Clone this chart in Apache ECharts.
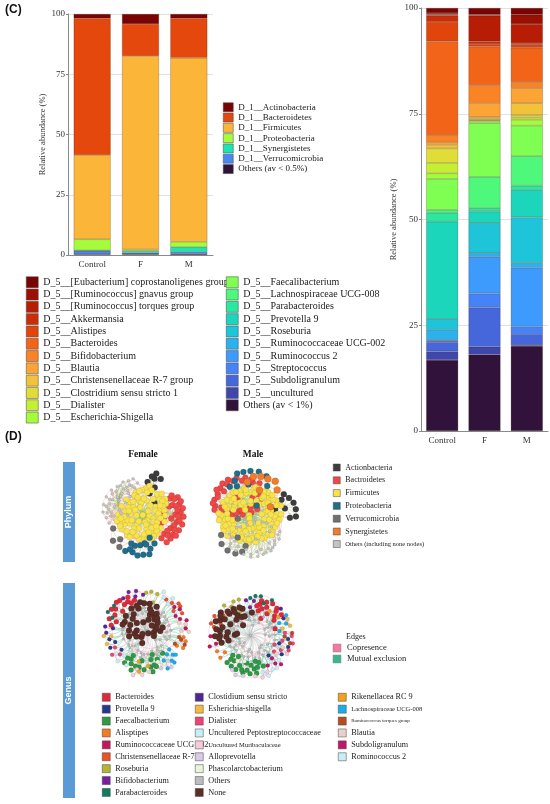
<!DOCTYPE html>
<html>
<head>
<meta charset="utf-8">
<script src="https://cdn.jsdelivr.net/npm/echarts@6/dist/echarts.min.js"></script>
<style>
html, body { margin: 0; padding: 0; background: #fff; }
#main { width: 550px; height: 804px; }
</style>
</head>
<body>
<div id="main"></div>
<script>
// ---- (C) relative abundance, three samples ----
const samples = ['Control', 'F', 'M'];

const phylumNames = ['D_1__Actinobacteria', 'D_1__Bacteroidetes', 'D_1__Firmicutes', 'D_1__Proteobacteria',
  'D_1__Synergistetes', 'D_1__Verrucomicrobia', 'Others (av < 0.5%)'];
const phylumControl = [1.8, 56.7, 35.0, 4.6, 0.1, 1.5, 0.3];
const phylumF = [4.1, 13.3, 80.3, 0.6, 0.8, 0.6, 0.3];
const phylumM = [1.8, 16.4, 76.3, 2.2, 2.1, 0.8, 0.4];

const genusNames = ['D_5__[Eubacterium] coprostanoligenes group', 'D_5__[Ruminococcus] gnavus group',
  'D_5__[Ruminococcus] torques group', 'D_5__Akkermansia', 'D_5__Alistipes', 'D_5__Bacteroides',
  'D_5__Bifidobacterium', 'D_5__Blautia', 'D_5__Christensenellaceae R-7 group', 'D_5__Clostridium sensu stricto 1',
  'D_5__Dialister', 'D_5__Escherichia-Shigella', 'D_5__Faecalibacterium', 'D_5__Lachnospiraceae UCG-008',
  'D_5__Parabacteroides', 'D_5__Prevotella 9', 'D_5__Roseburia', 'D_5__Ruminococcaceae UCG-002',
  'D_5__Ruminococcus 2', 'D_5__Streptococcus', 'D_5__Subdoligranulum', 'D_5__uncultured', 'Others (av < 1%)'];
const genusControl = [1.2, 0.3, 0.3, 1.5, 4.6, 22.1, 1.7, 0.6, 0.9, 3.4, 2.5, 1.3, 7.3, 0.7, 2.1, 23.0, 2.6, 2.4, 0.2, 0.3, 2.2, 2.0, 16.8];
const genusF = [1.5, 0.3, 6.1, 0.6, 0.6, 9.1, 4.2, 3.4, 0.4, 0.3, 0.2, 0.5, 12.7, 7.4, 0.8, 2.8, 7.1, 0.8, 8.7, 3.3, 9.3, 1.9, 18.0];
const genusM = [1.6, 2.2, 4.5, 0.4, 0.7, 8.1, 1.4, 3.6, 2.8, 0.6, 0.5, 1.4, 7.2, 7.0, 1.0, 6.5, 10.8, 1.1, 13.9, 1.8, 2.6, 0.2, 20.1];

// ---- (D) co-occurrence networks: node counts per group ----
const phylumNetGroups = ['Actionbacteria', 'Bactroidetes', 'Firmicutes', 'Proteobacteria', 'Verrucomicrobia',
  'Synergistetes', 'Others (including none nodes)'];
const femalePhylumNodes = [8, 34, 90, 14, 4, 0, 40];
const malePhylumNodes = [9, 36, 115, 11, 8, 8, 36];

const genusNetGroups = ['Bacteroides', 'Provetella 9', 'Faecalbacterium', 'Alisptipes', 'Ruminococcaceae UCG 002',
  'Christensenellaceae R-7', 'Roseburia', 'Bifidobacterium', 'Parabacteroides',
  'Clostidium sensu stricto', 'Esherichia-shigella', 'Dialister', 'Uncultered Peptostreptococcaceae',
  'Uncultured Muribaculaceae', 'Alloprevotella', 'Phascolarctobacterium', 'Others', 'None',
  'Rikenellacea RC 9', 'Lachnospiraceae UCG-008', 'Ruminococcus torques group', 'Blautia', 'Subdoligranulum', 'Rominococcus 2'];
const femaleGenusNodes = [14, 4, 18, 4, 3, 6, 4, 5, 3, 3, 3, 3, 4, 4, 3, 3, 50, 40, 3, 8, 4, 4, 3, 4];
const maleGenusNodes = [16, 5, 20, 3, 3, 5, 5, 3, 5, 2, 3, 8, 3, 3, 3, 3, 55, 30, 2, 4, 3, 3, 4, 3];

// ---- styles ----
const phylumColors = ['#7a0403', '#e4480c', '#fbb63a', '#a4fc3c', '#1be5b3', '#4788f5', '#30123b'];
const genusColors = ['#7a0403', '#9a1002', '#b71c05', '#cb2e07', '#e0460c', '#f26418', '#f98325', '#fca435',
  '#f3c23b', '#e0dc38', '#c6ef34', '#a4fc3c', '#80ff53', '#4ef87a', '#2ae8a0', '#1cd6bb', '#1ec5d8',
  '#2bb2ee', '#3e9bfe', '#4683f7', '#4567db', '#3f47ad', '#30123b'];
const phylumNetColors = ['#3d3d3d', '#f04848', '#f8e34c', '#1f6e8c', '#707070', '#f07c2c', '#c4c4c4'];
const phylumNodeSize = [6, 6, 6, 6, 6, 7, 3];
const genusNetColors = ['#e2293b', '#28388f', '#2e9a44', '#f57c22', '#c2185b', '#e9522a', '#b7b432', '#7b1fa2',
  '#127a60', '#4b2a98', '#f5b840', '#ef4378', '#c9eff6', '#f9cad9', '#d9c9ea', '#e9f4da', '#bdbdbd', '#5b2e27',
  '#f0a11f', '#1aaee9', '#b84c1b', '#e8d2ca', '#c0176b', '#c8eef9'];
const genusNodeSize = [5, 4, 5, 4, 4, 4, 4, 4, 4, 4, 4, 4, 4, 4, 4, 4, 2.5, 6, 4, 4, 4, 4, 4, 4];

const SERIF = 'Liberation Serif';
const SANS = 'Liberation Sans';

const chart = echarts.init(document.getElementById('main'), null, { renderer: 'canvas' });

function stackSeries(names, cols, colors, axis, width) {
  // first series = bottom of the stack, so go from the last legend entry upward
  const out = [];
  for (let i = names.length - 1; i >= 0; i--) {
    out.push({
      name: names[i], type: 'bar', stack: 's' + axis,
      xAxisIndex: axis, yAxisIndex: axis, barWidth: width,
      data: cols.map(c => c[i]),
      itemStyle: { color: colors[i], borderColor: 'rgba(60,20,0,0.45)', borderWidth: 0.5 },
      emphasis: { disabled: true }
    });
  }
  return out;
}

// star inside each group; each outside node also tied to one member of the biggest group; running chain
function buildNet(groups, counts, sizes, edgeCol) {
  const nodes = [], links = [], first = [];
  const main = counts.indexOf(Math.max.apply(null, counts));
  let start = 0;
  counts.forEach((c, g) => { first[g] = start; start += c; });
  let m = 0;
  counts.forEach((c, g) => {
    for (let k = 0; k < c; k++) {
      const id = nodes.length;
      nodes.push({ name: groups[g] + ' #' + (k + 1), category: g, value: 1, symbolSize: sizes[g] });
      if (k > 0) links.push({ source: first[g], target: id, lineStyle: { color: edgeCol[0] } });
      if (g !== main) {
        links.push({ source: first[main] + (m % counts[main]), target: id, lineStyle: { color: edgeCol[1] } });
        m += 7;
      }
      if (id > 0) links.push({ source: id - 1, target: id, lineStyle: { color: edgeCol[2] } });
    }
  });
  return { nodes, links };
}

function netSeries(groups, counts, colors, sizes, edgeCol, box) {
  const net = buildNet(groups, counts, sizes, edgeCol);
  return {
    type: 'graph', layout: 'force',
    left: box[0], top: box[1], width: box[2], height: box[3],
    roam: false, silent: true, animation: false,
    categories: groups.map((g, i) => ({ name: g, itemStyle: { color: colors[i] } })),
    data: net.nodes, links: net.links,
    force: { initLayout: 'circular', repulsion: 2, gravity: 0.28, edgeLength: 8, layoutAnimation: false },
    lineStyle: { width: 0.5, opacity: 0.7, curveness: 0.3 },
    itemStyle: { borderColor: 'rgba(0,0,0,0.3)', borderWidth: 0.3 },
    label: { show: false },
    emphasis: { disabled: true }
  };
}

const axisText = { fontFamily: SERIF, fontSize: 9, color: '#333' };

function xAx(i) {
  return {
    type: 'category', gridIndex: i, data: samples,
    axisLine: { lineStyle: { color: '#8a8a8a' } }, axisTick: { show: false },
    axisLabel: Object.assign({ margin: 5 }, axisText)
  };
}
function yAx(i, gap) {
  return {
    type: 'value', gridIndex: i, min: 0, max: 100, interval: 25,
    name: 'Relative abundance (%)', nameLocation: 'middle', nameGap: gap,
    nameTextStyle: { fontFamily: SERIF, fontSize: 8.5, color: '#333' },
    axisLine: { show: true, lineStyle: { color: '#8a8a8a' } },
    axisTick: { show: true, length: 2, lineStyle: { color: '#8a8a8a' } },
    axisLabel: Object.assign({ margin: 3 }, axisText),
    splitLine: { lineStyle: { color: '#e2e2e2' } }
  };
}

function legendOf(names, left, top, iw, ih, gap, fs) {
  return {
    orient: 'vertical', left: left, top: top, padding: 0, height: 200,
    itemWidth: iw, itemHeight: ih, itemGap: gap, icon: 'rect', selectedMode: false,
    itemStyle: { borderColor: '#444', borderWidth: 0.5 },
    textStyle: { fontFamily: SERIF, fontSize: fs, color: '#222' },
    data: names
  };
}

const small = (n, fs) => ({ name: n, textStyle: { fontSize: fs } });

const sideBand = (y, h, label) => ({
  type: 'group', children: [
    { type: 'rect', shape: { x: 63, y: y, width: 12, height: h }, style: { fill: '#5b9bd5' } },
    { type: 'text', x: 69, y: y + h / 2, rotation: Math.PI / 2,
      style: { text: label, fill: '#fff', font: 'bold 9px ' + SANS, textAlign: 'center', textVerticalAlign: 'middle' } }
  ]
});

const option = {
  backgroundColor: '#fff',
  animation: false,
  grid: [
    { left: 68, top: 14, width: 145, height: 241 },
    { left: 421, top: 8, width: 127, height: 423 }
  ],
  xAxis: [xAx(0), xAx(1)],
  yAxis: [yAx(0, 20), yAx(1, 23)],
  legend: [
    legendOf(phylumNames, 223, 102.5, 10, 9, 0.8, 9),
    legendOf(genusNames.slice(0, 12), 26, 276.5, 12, 11, 0.8, 10),
    legendOf(genusNames.slice(12), 226, 276.5, 12, 11, 0.8, 10),
    legendOf(phylumNetGroups.map((n, i) => i === 6 ? small(n, 6.5) : n), 333, 463.5, 7, 7, 4.8, 8),
    legendOf(genusNetGroups.slice(0, 9), 102, 693, 8, 8, 3.4, 8.2),
    legendOf(genusNetGroups.slice(9, 18).map(n => n === 'Uncultured Muribaculaceae' ? small(n, 6.5) : n), 195, 693, 8, 8, 3.4, 8.2),
    legendOf(genusNetGroups.slice(18).map(n => n === 'Lachnospiraceae UCG-008' ? small(n, 6.5)
      : (n === 'Ruminococcus torques group' ? small(n, 5) : n)), 338, 693, 8, 8, 3.4, 8.2)
  ],
  series: [].concat(
    stackSeries(phylumNames, [phylumControl, phylumF, phylumM], phylumColors, 0, 37),
    stackSeries(genusNames, [genusControl, genusF, genusM], genusColors, 1, 32),
    [
      netSeries(phylumNetGroups, femalePhylumNodes, phylumNetColors, phylumNodeSize, ['#8dbb4f', '#f08cb2', '#f3b08a'], [98, 469, 90, 90]),
      netSeries(phylumNetGroups, malePhylumNodes, phylumNetColors, phylumNodeSize, ['#7cc45a', '#f08cb2', '#9fd36a'], [205, 469, 90, 90]),
      netSeries(genusNetGroups, femaleGenusNodes, genusNetColors, genusNodeSize, ['#b8b8b8', '#4cba84', '#f3a0bd'], [99, 585, 94, 94]),
      netSeries(genusNetGroups, maleGenusNodes, genusNetColors, genusNodeSize, ['#b8b8b8', '#3fb890', '#f3a0bd'], [208, 592, 88, 88])
    ]
  ),
  graphic: [
    { type: 'text', x: 5, y: 4, style: { text: '(C)', font: 'bold 12px ' + SANS, fill: '#111' } },
    { type: 'text', x: 5, y: 431, style: { text: '(D)', font: 'bold 12px ' + SANS, fill: '#111' } },
    { type: 'text', x: 143, y: 455, style: { text: 'Female', font: 'bold 9.5px ' + SERIF, fill: '#111', textAlign: 'center', textVerticalAlign: 'middle' } },
    { type: 'text', x: 253, y: 455, style: { text: 'Male', font: 'bold 9.5px ' + SERIF, fill: '#111', textAlign: 'center', textVerticalAlign: 'middle' } },
    sideBand(462, 100, 'Phylum'),
    sideBand(583, 215, 'Genus'),
    { type: 'text', x: 346, y: 637, style: { text: 'Edges', font: '8px ' + SERIF, fill: '#222', textVerticalAlign: 'middle' } },
    { type: 'rect', shape: { x: 333, y: 644, width: 8, height: 8 }, style: { fill: '#f07aa0', stroke: '#888', lineWidth: 0.5 } },
    { type: 'text', x: 347, y: 648, style: { text: 'Copresence', font: '8.5px ' + SERIF, fill: '#222', textVerticalAlign: 'middle' } },
    { type: 'rect', shape: { x: 333, y: 655, width: 8, height: 8 }, style: { fill: '#3ab88a', stroke: '#888', lineWidth: 0.5 } },
    { type: 'text', x: 347, y: 659, style: { text: 'Mutual exclusion', font: '8.5px ' + SERIF, fill: '#222', textVerticalAlign: 'middle' } }
  ]
};

chart.setOption(option);
</script>
</body>
</html>
